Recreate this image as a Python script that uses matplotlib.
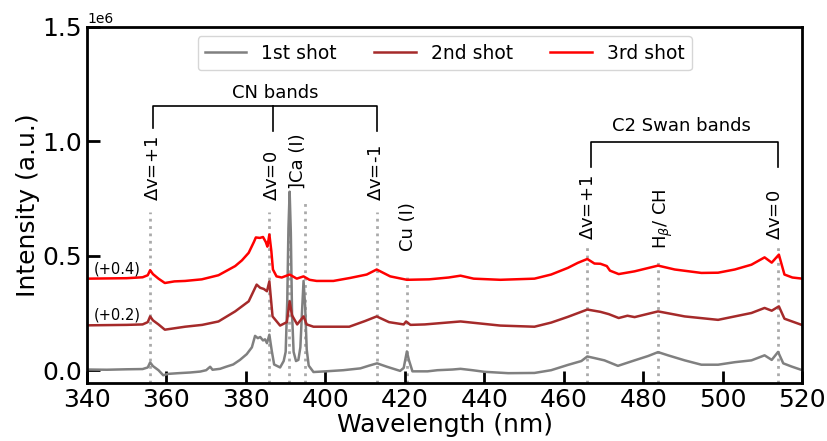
import numpy as np
import matplotlib
matplotlib.use("Agg")
import matplotlib.pyplot as plt

# --------------------------------------------------
# spectra (intensity in units of 1e6 counts)

wl_1 = [340, 345, 350, 354, 355.3, 355.9, 356.6, 358, 359.2, 360.5, 363, 366,
        368.5, 370, 371, 371.6, 373.5, 375, 376.8, 378.5, 380.2, 381.5, 382.3,
        383.0, 383.6, 384.3, 384.8, 385.3, 385.9, 386.5, 387.1, 388.6, 389.5,
        390.0, 390.4, 390.7, 391.0, 391.3, 391.6, 392.0, 392.6, 393.2, 393.7,
        394.1, 394.5, 394.9, 395.3, 395.8, 397, 400, 404.5, 408.8, 411, 413,
        415.5, 418.8, 419.7, 420.5, 421.0, 421.9, 425.7, 428.2, 432, 434, 437,
        440, 446, 452.6, 456.8, 461, 464.4, 465.9, 467.7, 470.2, 473.6, 477.8,
        481.2, 483.7, 486.2, 490.4, 494.6, 498.8, 503, 507.2, 510.5, 512.3,
        513.9, 515.2, 517.3, 520]
shot_1 = [0.003, 0.002, 0.004, 0.005, 0.012, 0.034, 0.018, 0.0, -0.022, -0.016,
          -0.013, -0.01, -0.006, 0.0, 0.015, 0.002, 0.006, 0.015, 0.025, 0.045,
          0.07, 0.1, 0.15, 0.14, 0.145, 0.13, 0.135, 0.118, 0.155, 0.085, 0.025,
          0.012, 0.04, 0.08, 0.3, 0.62, 0.78, 0.6, 0.25, 0.08, 0.04, 0.045, 0.1,
          0.25, 0.39, 0.28, 0.09, 0.02, -0.008, -0.005, 0.0, 0.008, 0.02, 0.03,
          0.015, -0.003, 0.01, 0.082, 0.045, -0.005, -0.005, 0.0, 0.003, 0.006,
          0.0, -0.007, -0.013, -0.012, 0.0, 0.023, 0.04, 0.06, 0.053, 0.043,
          0.019, 0.043, 0.062, 0.079, 0.065, 0.043, 0.024, 0.024, 0.035, 0.043,
          0.065, 0.045, 0.08, 0.03, 0.016, 0.0]

wl_2 = [340, 350, 354, 355.3, 355.9, 356.6, 358, 359.6, 364.7, 369, 373.1,
        377.3, 380.7, 382.7, 383.6, 384.5, 385.3, 385.9, 386.7, 388.6, 390.3,
        391.0, 391.6, 392.9, 394.5, 395.3, 397, 406, 410, 412.9, 416, 419.7,
        420.3, 421.4, 425, 434, 444, 452.6, 456.8, 461, 465.9, 469.2, 471.3,
        473.8, 476, 477.8, 483.7, 490.4, 498.8, 507.2, 510.5, 512.3, 514.1,
        515.5, 520]
shot_2 = [-0.004, -0.002, 0.0, 0.01, 0.035, 0.018, 0.0, -0.023, -0.01, -0.002,
          0.013, 0.057, 0.101, 0.174, 0.16, 0.155, 0.145, 0.188, 0.035, -0.005,
          0.01, 0.101, 0.04, 0.0, 0.035, 0.0, -0.01, -0.01, 0.015, 0.035, 0.01,
          0.0, 0.013, -0.002, 0.0, 0.013, -0.005, -0.01, 0.008, 0.033, 0.065,
          0.055, 0.045, 0.028, 0.038, 0.032, 0.057, 0.035, 0.02, 0.05, 0.072,
          0.06, 0.079, 0.025, -0.003]

wl_3 = [340, 350, 354, 355.3, 355.9, 356.6, 358, 359.6, 362, 364.7, 368.9,
        373.1, 377.3, 379, 380.7, 382.0, 382.5, 383.5, 384.3, 385.0, 385.4,
        385.9, 386.4, 386.8, 387.7, 389, 391, 392.8, 394.5, 396, 397.8, 402,
        406.2, 410.4, 412.9, 416.3, 420.5, 426.1, 431, 434, 437.3, 444, 452.6,
        456.8, 461, 463.5, 465.9, 467.7, 469.2, 470.8, 471.6, 473.8, 477.8,
        483.7, 487.9, 494.6, 498.8, 503, 507.2, 510.5, 512.3, 514.1, 515.5,
        517.5, 520]
shot_3 = [0.0, 0.002, 0.006, 0.015, 0.037, 0.02, 0.0, -0.019, -0.012, -0.01,
          -0.003, 0.015, 0.055, 0.08, 0.113, 0.16, 0.18, 0.178, 0.182, 0.16,
          0.14, 0.193, 0.12, 0.04, 0.01, 0.005, 0.018, 0.0, 0.01, -0.005, -0.01,
          -0.01, 0.003, 0.018, 0.04, 0.01, -0.005, -0.003, 0.005, 0.013, 0.0,
          -0.005, 0.0, 0.018, 0.047, 0.069, 0.086, 0.066, 0.065, 0.055, 0.035,
          0.02, 0.032, 0.057, 0.04, 0.025, 0.026, 0.04, 0.061, 0.093, 0.07,
          0.105, 0.018, 0.005, 0.0]

shot_names = ['1st shot', '2nd shot', '3rd shot']
shot_colors = ['gray', 'brown', 'red']
offsets = [0.0, 0.2, 0.4]

# line labels: (wavelength, top of dotted line, text x, text y, text)
lines = [(355.9, 0.69, 356.5, 0.74, r'$\Delta$v=+1'),
         (385.9, 0.69, 386.6, 0.74, r'$\Delta$v=0'),
         (390.9, 0.75, 393.0, 0.79, ']Ca (I)'),
         (394.8, 0.75, None, None, None),
         (412.9, 0.69, 412.8, 0.74, r'$\Delta$v=-1'),
         (420.6, 0.42, 420.8, 0.52, 'Cu (I)'),
         (465.9, 0.55, 466.1, 0.57, r'$\Delta$v=+1'),
         (483.8, 0.48, 485.0, 0.53, r'H$_\beta$/ CH'),
         (513.8, 0.55, 513.2, 0.57, r'$\Delta$v=0')]

# --------------------------------------------------

plt.rcParams['font.family'] = ['DejaVu Sans']
fig, ax = plt.subplots(figsize=(8.28, 4.41), dpi=100)
fig.subplots_adjust(left=0.105, right=0.969, bottom=0.132, top=0.939)

ymin = -0.055e6

for x, top, tx, ty, txt in lines:
    ax.vlines(x, ymin, top * 1e6, colors='#aaaaaa', linestyles=':', lw=2,
              zorder=1)
    if txt is not None:
        ax.text(tx, ty * 1e6, txt, rotation=90, ha='center', va='bottom',
                fontsize=13)

all_wl = [wl_1, wl_2, wl_3]
all_shot = [shot_1, shot_2, shot_3]
for i in range(3):
    y = (np.array(all_shot[i]) + offsets[i]) * 1e6
    ax.plot(all_wl[i], y, color=shot_colors[i], lw=1.8, label=shot_names[i],
            zorder=2)

ax.text(341.8, 0.44e6, '(+0.4)', fontsize=10.5, va='center')
ax.text(341.8, 0.243e6, '(+0.2)', fontsize=10.5, va='center')

# CN bands bracket
ax.plot([356.7, 356.7, 412.9, 412.9], [1.06e6, 1.154e6, 1.154e6, 1.045e6],
        color='black', lw=1.2)
ax.plot([386.9, 386.9], [1.154e6, 1.045e6], color='black', lw=1.2)
ax.text(387.5, 1.21e6, 'CN bands', ha='center', va='center', fontsize=13)

# C2 Swan bands bracket
ax.plot([466.8, 466.8, 513.9, 513.9], [0.89e6, 0.997e6, 0.997e6, 0.89e6],
        color='black', lw=1.2)
ax.text(489.7, 1.066e6, 'C2 Swan bands', ha='center', va='center',
        fontsize=13)

ax.set_xlim(340, 520)
ax.set_ylim(ymin, 1.5e6)
ax.set_yticks([0, 0.5e6, 1.0e6, 1.5e6])
ax.set_xticks(np.arange(340, 521, 20))
ax.tick_params(direction='in', length=9, width=2, labelsize=18)
ax.yaxis.get_offset_text().set_fontsize(10)
for sp in ax.spines.values():
    sp.set_linewidth(2)

ax.set_xlabel('Wavelength (nm)', fontsize=18, labelpad=1)
ax.set_ylabel('Intensity (a.u.)', fontsize=18, labelpad=2)
ax.legend(loc='upper center', ncol=3, fontsize=13.5, handlelength=2.2,
          columnspacing=2.0)

fig.savefig('out.png', dpi=100)
